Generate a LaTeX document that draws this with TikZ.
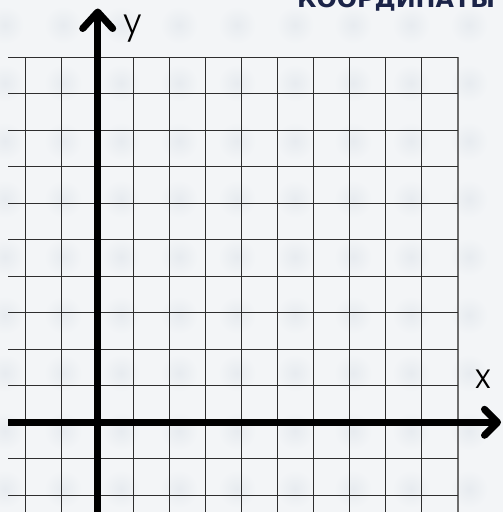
\documentclass[tikz,border=0pt]{standalone}
\usepackage{fontspec}
\setmainfont{DejaVu Sans}
\newfontfamily\labelfont{Poppins Light}
\newfontfamily\titlefont{DejaVu Sans Bold}
\definecolor{bgcol}{HTML}{F3F5F7}
\definecolor{blobcol}{HTML}{E8ECF0}
\definecolor{gridcol}{HTML}{2E2E2E}
\definecolor{titlecol}{HTML}{1B2448}
\tikzset{
  gridline/.style={draw=gridcol, line width=1.2pt},
  edgeline/.style={draw=gray!85!black, line width=1.6pt},
  axisline/.style={draw=black, line width=7.5pt},
  arrowhead/.style={draw=black, line width=7pt, line cap=round, line join=round},
  axlabel/.style={font=\labelfont\fontsize{34}{34}\selectfont, text=black, inner sep=0pt},
}
\begin{document}
\begin{tikzpicture}[x=1pt, y=-1pt]
\useasboundingbox (0,0) rectangle (503,512);
\clip (0,0) rectangle (503,512);
\fill[bgcol] (0,0) rectangle (503,512);
% faint background blobs
\foreach \i in {0,...,8} {
  \foreach \j in {0,...,8} {
    \shade[inner color=blobcol, outer color=bgcol] ({5+58*\i},{25+58*\j}) circle (19);
  }
}
% title
\node[anchor=base west, inner sep=0pt, text=titlecol, font=\titlefont\fontsize{23.8}{23.8}\selectfont] (title) at (297,7) {КООРДИНАТЫ};
% grid: vertical lines
\foreach \k in {0,...,11} {
  \draw[gridline] ({25.7+36*\k},57.3) -- ({25.7+36*\k},512);
}
\draw[edgeline] (457.7,57.3) -- (457.7,512);
% grid: horizontal lines
\foreach \k in {0,...,12} {
  \draw[gridline] (8,{57.3+36.5*\k}) -- (457.7,{57.3+36.5*\k});
}
% axes
\coordinate (ybot) at (97.7,512);
\coordinate (ytip) at (97.7,12);
\coordinate (xleft) at (8,422.3);
\coordinate (xtip) at (497.5,422.3);
\draw[axisline] (ybot) -- (ytip);
\draw[arrowhead] (82.7,28.5) -- (ytip) -- (112.7,28.5);
\draw[axisline] (xleft) -- (xtip);
\draw[arrowhead] (484.5,409.3) -- (xtip) -- (484.5,435.3);
% labels
\node[axlabel, anchor=base west] (ylab) at (123,33.5) {y};
\node[axlabel, anchor=base west] (xlab) at (475.5,388.5) {x};
\end{tikzpicture}
\end{document}
